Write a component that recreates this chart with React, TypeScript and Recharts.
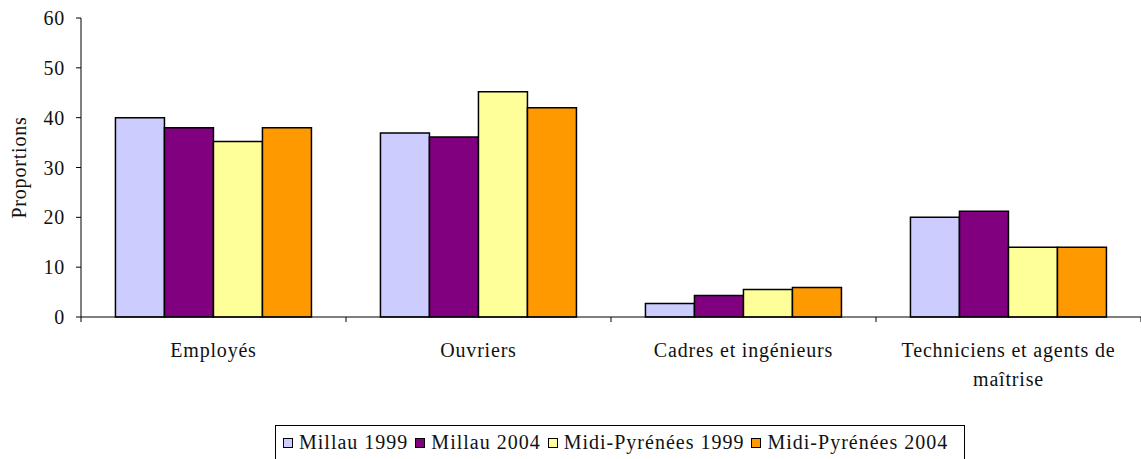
import { BarChart, Bar, XAxis, YAxis, Legend } from 'recharts'

const categories = ['Employés', 'Ouvriers', 'Cadres et ingénieurs', 'Techniciens et agents de maîtrise']
const millau1999 = [40, 36.9, 2.7, 20]
const millau2004 = [38, 36.1, 4.3, 21.2]
const midiPyrenees1999 = [35.2, 45.2, 5.5, 14]
const midiPyrenees2004 = [38, 42, 5.9, 14]
const yTicks = [0, 10, 20, 30, 40, 50, 60]

const series = [
  { key: 'm99', name: 'Millau 1999', values: millau1999, color: '#CCCCFF' },
  { key: 'm04', name: 'Millau 2004', values: millau2004, color: '#800080' },
  { key: 'p99', name: 'Midi-Pyrénées 1999', values: midiPyrenees1999, color: '#FFFF99' },
  { key: 'p04', name: 'Midi-Pyrénées 2004', values: midiPyrenees2004, color: '#FF9900' },
]

const data = categories.map((name, i) => {
  const row: Record<string, string | number> = { name }
  series.forEach(s => { row[s.key] = s.values[i] })
  return row
})

const FONT = '"Liberation Serif", "Times New Roman", serif'
const TXT = { fontFamily: FONT, fontSize: 20, fill: '#111', letterSpacing: 0.8 }
const W = 1141
const H = 459
const LEFT = 81
const band = (W - LEFT) / categories.length

// greedy word wrap, roughly 24 characters per line
function wrap(label: string, max = 24) {
  const lines: string[] = []
  let cur = ''
  label.split(' ').forEach(w => {
    if (cur && (cur + ' ' + w).length > max) {
      lines.push(cur)
      cur = w
    } else {
      cur = cur ? cur + ' ' + w : w
    }
  })
  if (cur) lines.push(cur)
  return lines
}

function CategoryTick(props: any) {
  const { x, y, payload } = props
  const lines = wrap(String(payload.value))
  return (
    <g>
      <line x1={x + band / 2} y1={y - 8} x2={x + band / 2} y2={y - 3} stroke="#000" />
      {payload.index === 0 && <line x1={x - band / 2} y1={y - 8} x2={x - band / 2} y2={y - 3} stroke="#000" />}
      <text x={x} y={y + 32} textAnchor="middle" style={TXT}>
        {lines.map((l, i) => (
          <tspan key={i} x={x} dy={i === 0 ? 0 : 29}>{l}</tspan>
        ))}
      </text>
    </g>
  )
}

function LegendBox() {
  return (
    <div style={{
      height: 40, border: '1px solid #000', boxSizing: 'border-box', display: 'flex',
      alignItems: 'flex-start', paddingLeft: 7, paddingTop: 5, fontFamily: FONT, fontSize: 20,
      letterSpacing: 1, lineHeight: '23px', color: '#111', background: '#fff',
    }}>
      {series.map(s => (
        <span key={s.key} style={{ display: 'inline-flex', alignItems: 'center', marginRight: 7, whiteSpace: 'nowrap' }}>
          <span style={{ width: 8, height: 8, background: s.color, border: '1.5px solid #000', marginRight: 6, display: 'inline-block' }} />
          {s.name}
        </span>
      ))}
    </div>
  )
}

export default function App() {
  return (
    <div style={{ position: 'absolute', left: 0, top: 0, width: W, height: H, background: '#fff', overflow: 'hidden' }}>
      <BarChart
        width={W}
        height={H}
        data={data}
        margin={{ top: 18, right: 0, left: 0, bottom: 0 }}
        barCategoryGap="13%"
        barGap={0}
      >
        <XAxis
          dataKey="name"
          axisLine={{ stroke: '#000' }}
          tickLine={false}
          tick={<CategoryTick />}
          interval={0}
          height={102}
        />
        <YAxis
          domain={[0, 60]}
          ticks={yTicks}
          width={LEFT}
          axisLine={{ stroke: '#000' }}
          tickLine={{ stroke: '#000' }}
          tickSize={5}
          tickMargin={11}
          tick={TXT}
          label={{ value: 'Proportions', angle: -90, position: 'insideLeft', offset: 19, style: { ...TXT, textAnchor: 'middle' } }}
        />
        <Legend
          verticalAlign="bottom"
          content={<LegendBox />}
          wrapperStyle={{ left: 275, width: 690, bottom: -6 }}
        />
        {series.map(s => (
          <Bar key={s.key} dataKey={s.key} name={s.name} fill={s.color} stroke="#000" strokeWidth={1.5} isAnimationActive={false} />
        ))}
      </BarChart>
    </div>
  )
}
